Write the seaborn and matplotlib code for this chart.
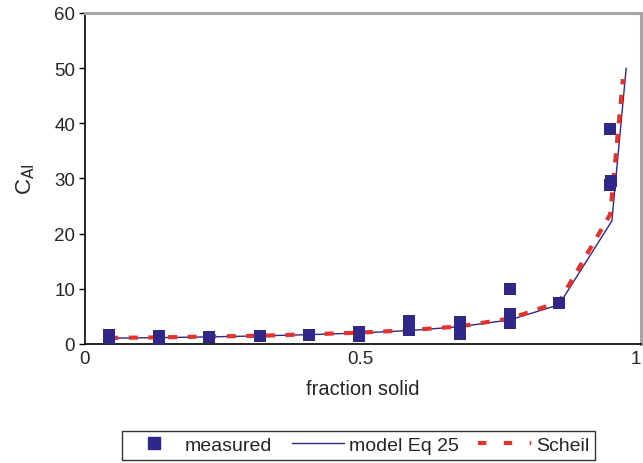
import numpy as np
import pandas as pd
import matplotlib
matplotlib.use("Agg")
import matplotlib.pyplot as plt
import seaborn as sns
from matplotlib.lines import Line2D

# measured points
meas_fs = [0.044, 0.044, 0.134, 0.134, 0.225, 0.318, 0.407, 0.497, 0.497,
           0.588, 0.588, 0.680, 0.680, 0.771, 0.771, 0.771, 0.860, 0.953, 0.955, 0.953]
meas_c = [1.0, 1.6, 0.9, 1.4, 1.3, 1.4, 1.7, 1.5, 2.1,
          2.5, 4.2, 1.8, 4.0, 3.8, 5.4, 10.0, 7.4, 38.9, 29.6, 28.9]

# model Eq 25
model_fs = [0.044, 0.134, 0.225, 0.318, 0.407, 0.497, 0.588, 0.680, 0.771, 0.860, 0.956, 0.982]
model_c = [1.05, 1.15, 1.29, 1.47, 1.69, 1.99, 2.43, 3.13, 4.37, 7.1, 22.3, 50.0]

# Scheil
scheil_fs = [0.044, 0.134, 0.225, 0.318, 0.407, 0.497, 0.588, 0.680, 0.771, 0.860, 0.953, 0.976]
scheil_c = [1.1, 1.2, 1.35, 1.5, 1.75, 2.05, 2.5, 3.2, 4.6, 7.6, 23.5, 48.0]

navy = "#2f2889"
red = "#e5322b"

sns.set_style("white")
plt.rcParams["font.family"] = ["Liberation Sans", "DejaVu Sans"]

fig = plt.figure(figsize=(6.43, 4.64), dpi=100)
ax = fig.add_axes([0.132, 0.2565, 0.865, 0.7135])

sns.lineplot(x=model_fs, y=model_c, ax=ax, color=navy, lw=1.0, sort=False,
             estimator=None, legend=False)
sns.lineplot(x=scheil_fs, y=scheil_c, ax=ax, color=red, lw=3.0, sort=False,
             estimator=None, legend=False, dashes=False)
ax.lines[-1].set_linestyle((0, (2.2, 2.5)))
sns.scatterplot(x=meas_fs, y=meas_c, ax=ax, marker="s", s=80, color=navy,
                edgecolor=navy, linewidth=0, legend=False, zorder=5)

ax.set_xlim(0, 1.009)
ax.set_ylim(0, 60)
ax.set_xticks(np.arange(0, 1.01, 0.1))
ax.set_xticklabels(["0", "", "", "", "", "0.5", "", "", "", "", "1"])
ax.set_yticks(range(0, 61, 10))
ax.tick_params(axis="x", direction="in", length=5, width=1, labelsize=13.5, pad=4, color="black")
ax.tick_params(axis="y", direction="out", length=4, width=1, labelsize=13.5, pad=3, color="black", left=True)
for s in ["left", "bottom"]:
    ax.spines[s].set_color("black")
    ax.spines[s].set_linewidth(1.2)
for s in ["top", "right"]:
    ax.spines[s].set_color("#a6a6a6")
    ax.spines[s].set_linewidth(2.2)

ax.set_xlabel("fraction solid", fontsize=14.5, labelpad=9)
ax.set_ylabel("C$_{\\mathrm{Al}}$", fontsize=16, labelpad=12)

handles = [
    Line2D([], [], marker="s", color=navy, ls="none", markersize=8),
    Line2D([], [], color=navy, lw=1.0),
    Line2D([], [], color=red, lw=3.0, ls=(0, (2.0, 4.2))),
]
leg = fig.legend(handles, ["measured", "model Eq 25", "Scheil"], ncol=3,
                 loc="center", bbox_to_anchor=(0.557, 0.038), fontsize=14,
                 frameon=True, fancybox=False, edgecolor="black",
                 handlelength=2.7, handletextpad=0.25, columnspacing=1.0,
                 borderpad=0.3)
leg.get_frame().set_linewidth(1.0)

fig.savefig("out.png", dpi=100)
